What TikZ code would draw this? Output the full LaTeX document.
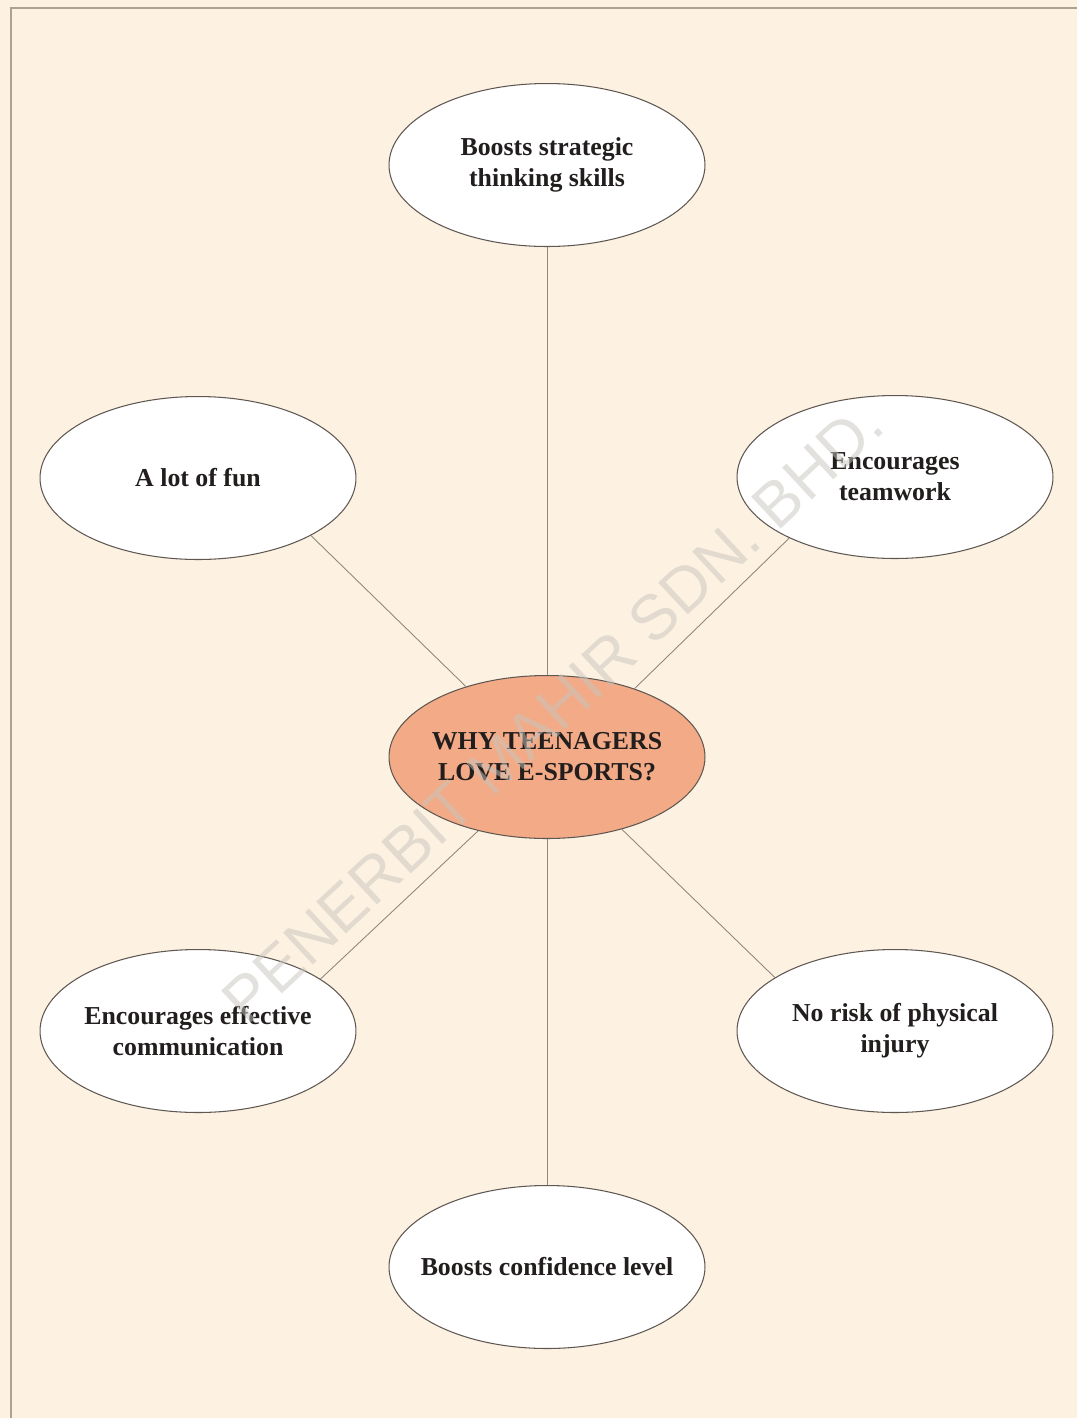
\documentclass[tikz,border=0pt]{standalone}
\usepackage{fontspec}
\setmainfont{Liberation Serif}
\newfontfamily\stampfont{Liberation Sans}
\usepackage{xcolor}
\usetikzlibrary{shapes.geometric, positioning}

\definecolor{paper}{RGB}{253,241,226}
\definecolor{frame}{RGB}{172,162,148}
\definecolor{salmon}{RGB}{242,170,135}
\definecolor{rim}{RGB}{95,88,82}
\definecolor{spoke}{RGB}{145,135,125}
\definecolor{ink}{RGB}{35,30,30}
\definecolor{stampgray}{RGB}{200,196,190}

\begin{document}
\begin{tikzpicture}[
      x=0.02cm, y=-0.02cm,
      bubble/.style={draw=rim, line width=0.6pt, fill=white, ellipse, minimum width=6.32cm, minimum height=3.26cm, inner sep=0pt, inner xsep=-10pt, align=center, text=ink, font=\bfseries\fontsize{14.7}{17.5}\selectfont},
      hub/.style={bubble, fill=salmon},
      link/.style={draw=spoke, line width=0.5pt},
      stamp/.style={rotate=43, text=stampgray, opacity=0.5, font=\stampfont\fontsize{36}{36}\selectfont},
    ]
    % Page
    \fill[paper] (0,0) rectangle (1077,1418);
    \useasboundingbox (0,0) rectangle (1077,1418);
    \draw[frame, line width=1.1pt] (1077,8) -- (11,8) -- (11,1418);

    % Nodes
    \node[hub] (hub) at (547,757) {WHY TEENAGERS\\LOVE E-SPORTS?};
    \node[bubble] (strategy) at (547,165) {Boosts strategic\\thinking skills};
    \node[bubble] (fun) at (198,478) {A lot of fun};
    \node[bubble] (team) at (895,477) {Encourages\\teamwork};
    \node[bubble] (talk) at (198,1031) {Encourages effective\\communication};
    \node[bubble] (injury) at (895,1031) {No risk of physical\\injury};
    \node[bubble] (confidence) at (547,1267) {Boosts confidence level};

    % Paths
    \draw[link] (hub.north) -- (strategy.south);
    \draw[link] (hub.south) -- (confidence.north);
    \draw[link] (hub.139) -- (fun.-27);
    \draw[link] (hub.38) -- (team.-150);
    \draw[link] (hub.-133) -- (talk.23);
    \draw[link] (hub.-44) -- (injury.156);

    % Watermark
    \node[stamp] (wm) at (553,712) {PENERBIT MAHIR SDN. BHD.};
  \end{tikzpicture}
\end{document}
